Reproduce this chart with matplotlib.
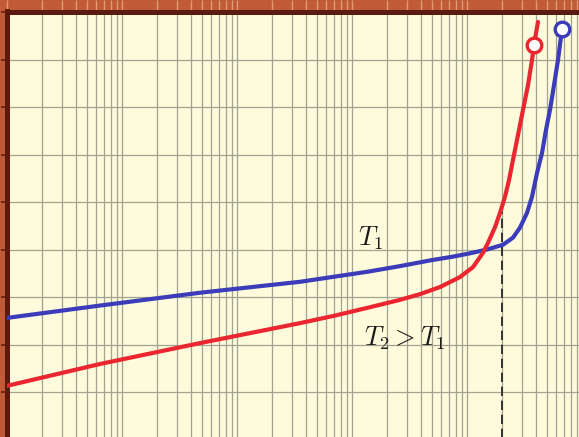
import matplotlib
matplotlib.use("Agg")
import matplotlib.pyplot as plt
import numpy as np

plt.rcParams['mathtext.fontset'] = 'cm'

# ---- data (x on log scale) ----
blue_x = [1.0, 6.44, 47.7, 353, 1350, 2615, 4768, 7554, 10620, 14928, 20560,
          25119, 28900, 33240, 36750, 40620, 44890, 48640, 52690, 57090, 61840,
          66990]
blue_y = [2.57, 2.83, 3.10, 3.33, 3.54, 3.66, 3.78, 3.86, 3.93, 4.01, 4.11,
          4.26, 4.47, 4.78, 5.12, 5.62, 6.04, 6.53, 6.95, 7.47, 8.00, 8.65]

red_x = [1.0, 6.44, 47.7, 353, 684, 1350, 2615, 3902, 5824, 8694, 11280,
         13776, 15225, 17519, 19364, 21400, 23190, 25119, 27770, 30690, 33920,
         36750, 38250, 41440]
red_y = [1.14, 1.60, 2.04, 2.46, 2.61, 2.78, 2.95, 3.07, 3.22, 3.43, 3.64,
         3.94, 4.15, 4.48, 4.78, 5.12, 5.47, 5.90, 6.42, 6.95, 7.47, 8.00,
         8.32, 8.80]

blue_end = (66990, 8.65)
red_end = (38250, 8.32)

dash_x = 20000
dash_top = 4.8

label_t1 = r'$T_1$'
label_t2 = r'$T_2 > T_1$'
t1_pos = (1462, 4.25)
t2_pos = (2890, 2.15)

W, H = 579, 437
fig = plt.figure(figsize=(W / 100, H / 100), dpi=100, facecolor='#c05a37')
ax = fig.add_axes([7 / W, 0, (W - 7) / W, (H - 11.5) / H])
ax.set_facecolor('#fdfbdc')

ax.set_xscale('log')
ax.set_xlim(1.0, 10 ** ((W - 7) / 115))
ax.set_ylim(0.063, 9.02)
ax.set_yticks(np.arange(1, 10))

ax.grid(True, which='both', axis='x', color='#a3a392', lw=0.9)
ax.grid(True, which='major', axis='y', color='#a3a392', lw=0.9)
ax.set_axisbelow(True)

for s in ['right', 'bottom']:
    ax.spines[s].set_visible(False)
for s in ['left', 'top']:
    ax.spines[s].set_color('#5a1a10')
    ax.spines[s].set_linewidth(3.6)

ax.tick_params(axis='x', which='both', top=True, bottom=False, labeltop=False,
               labelbottom=False, direction='out', length=9, width=1.0,
               color='#e29a72')
ax.tick_params(axis='y', which='both', left=True, right=False, labelleft=False,
               direction='out', length=4.5, width=1.2, color='#6a2010')
ax.tick_params(axis='y', which='minor', left=False)

ax.plot([dash_x, dash_x], [0.0, dash_top], color='#333333', lw=1.4,
        dashes=(4.8, 2.4), zorder=3)

ax.plot(blue_x, blue_y, color='#3b3cba', lw=3.0, solid_capstyle='round',
        solid_joinstyle='round', zorder=4)
ax.plot(red_x, red_y, color='#ea2630', lw=3.0, solid_capstyle='round',
        solid_joinstyle='round', zorder=5)

ax.plot([blue_end[0]], [blue_end[1]], 'o', ms=10.5, mfc='white', mec='#3b3cba',
        mew=2.4, zorder=6, clip_on=False)
ax.plot([red_end[0]], [red_end[1]], 'o', ms=10.5, mfc='white', mec='#ea2630',
        mew=2.4, zorder=6, clip_on=False)

ax.text(*t1_pos, label_t1, fontsize=19, ha='center', va='center', color='#1a1a1a')
ax.text(*t2_pos, label_t2, fontsize=19, ha='center', va='center', color='#1a1a1a')

fig.savefig('out.png', dpi=100, facecolor=fig.get_facecolor())
